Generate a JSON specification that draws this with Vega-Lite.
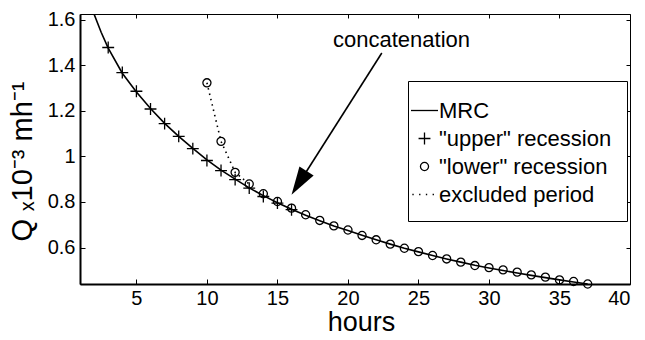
{
  "$schema": "https://vega.github.io/schema/vega-lite/v6.json",
  "width": 550,
  "height": 270,
  "autosize": {"type": "none"},
  "padding": {"left": 80, "top": 14, "right": 15, "bottom": 56},
  "config": {
    "font": "Liberation Sans",
    "view": {"stroke": "black", "strokeWidth": 1},
    "axis": {"grid": false, "labelColor": "black", "titleColor": "black", "tickColor": "black", "domainColor": "black", "labelFontSize": 20, "titleFontSize": 28, "titleFontWeight": "normal"}
  },
  "datasets": {
    "mrc": [
      {"hours": 1.9, "Q": 1.64}, {"hours": 2.5, "Q": 1.545}, {"hours": 3, "Q": 1.475}, {"hours": 4, "Q": 1.365},
      {"hours": 5, "Q": 1.283}, {"hours": 6, "Q": 1.21}, {"hours": 7, "Q": 1.145}, {"hours": 8, "Q": 1.088},
      {"hours": 9, "Q": 1.035}, {"hours": 10, "Q": 0.985}, {"hours": 11, "Q": 0.94}, {"hours": 12, "Q": 0.9},
      {"hours": 13, "Q": 0.862}, {"hours": 14, "Q": 0.828}, {"hours": 15, "Q": 0.797}, {"hours": 16, "Q": 0.768},
      {"hours": 17, "Q": 0.742}, {"hours": 18, "Q": 0.718}, {"hours": 19, "Q": 0.695}, {"hours": 20, "Q": 0.675},
      {"hours": 21, "Q": 0.654}, {"hours": 22, "Q": 0.634}, {"hours": 23, "Q": 0.615}, {"hours": 24, "Q": 0.597},
      {"hours": 25, "Q": 0.581}, {"hours": 26, "Q": 0.565}, {"hours": 27, "Q": 0.55}, {"hours": 28, "Q": 0.536},
      {"hours": 29, "Q": 0.522}, {"hours": 30, "Q": 0.51}, {"hours": 31, "Q": 0.499}, {"hours": 32, "Q": 0.488},
      {"hours": 33, "Q": 0.478}, {"hours": 34, "Q": 0.468}, {"hours": 35, "Q": 0.458}, {"hours": 36, "Q": 0.449},
      {"hours": 37, "Q": 0.44}
    ],
    "points": [
      {"series": "\"upper\" recession", "hours": 3, "Q": 1.478},
      {"series": "\"upper\" recession", "hours": 4, "Q": 1.368},
      {"series": "\"upper\" recession", "hours": 5, "Q": 1.286},
      {"series": "\"upper\" recession", "hours": 6, "Q": 1.208},
      {"series": "\"upper\" recession", "hours": 7, "Q": 1.144},
      {"series": "\"upper\" recession", "hours": 8, "Q": 1.088},
      {"series": "\"upper\" recession", "hours": 9, "Q": 1.034},
      {"series": "\"upper\" recession", "hours": 10, "Q": 0.982},
      {"series": "\"upper\" recession", "hours": 11, "Q": 0.938},
      {"series": "\"upper\" recession", "hours": 12, "Q": 0.898},
      {"series": "\"upper\" recession", "hours": 13, "Q": 0.861},
      {"series": "\"upper\" recession", "hours": 14, "Q": 0.824},
      {"series": "\"upper\" recession", "hours": 15, "Q": 0.795},
      {"series": "\"upper\" recession", "hours": 16, "Q": 0.766},
      {"series": "\"lower\" recession", "hours": 10, "Q": 1.323},
      {"series": "\"lower\" recession", "hours": 11, "Q": 1.066},
      {"series": "\"lower\" recession", "hours": 12, "Q": 0.93},
      {"series": "\"lower\" recession", "hours": 13, "Q": 0.879},
      {"series": "\"lower\" recession", "hours": 14, "Q": 0.836},
      {"series": "\"lower\" recession", "hours": 15, "Q": 0.802},
      {"series": "\"lower\" recession", "hours": 16, "Q": 0.773},
      {"series": "\"lower\" recession", "hours": 17, "Q": 0.744},
      {"series": "\"lower\" recession", "hours": 18, "Q": 0.719},
      {"series": "\"lower\" recession", "hours": 19, "Q": 0.695},
      {"series": "\"lower\" recession", "hours": 20, "Q": 0.677},
      {"series": "\"lower\" recession", "hours": 21, "Q": 0.653},
      {"series": "\"lower\" recession", "hours": 22, "Q": 0.634},
      {"series": "\"lower\" recession", "hours": 23, "Q": 0.615},
      {"series": "\"lower\" recession", "hours": 24, "Q": 0.597},
      {"series": "\"lower\" recession", "hours": 25, "Q": 0.582},
      {"series": "\"lower\" recession", "hours": 26, "Q": 0.565},
      {"series": "\"lower\" recession", "hours": 27, "Q": 0.55},
      {"series": "\"lower\" recession", "hours": 28, "Q": 0.536},
      {"series": "\"lower\" recession", "hours": 29, "Q": 0.521},
      {"series": "\"lower\" recession", "hours": 30, "Q": 0.512},
      {"series": "\"lower\" recession", "hours": 31, "Q": 0.502},
      {"series": "\"lower\" recession", "hours": 32, "Q": 0.492},
      {"series": "\"lower\" recession", "hours": 33, "Q": 0.48},
      {"series": "\"lower\" recession", "hours": 34, "Q": 0.47},
      {"series": "\"lower\" recession", "hours": 35, "Q": 0.458},
      {"series": "\"lower\" recession", "hours": 36, "Q": 0.451},
      {"series": "\"lower\" recession", "hours": 37, "Q": 0.44}
    ],
    "excluded": [
      {"hours": 10, "Q": 1.323}, {"hours": 11, "Q": 1.066}, {"hours": 12, "Q": 0.93}, {"hours": 13, "Q": 0.879}
    ],
    "arrow": [
      {"label": "concatenation", "hours": 22.4, "Q": 1.454, "hours2": 16.3, "Q2": 0.86, "tipHours": 16.0, "tipQ": 0.832, "textHours": 23.8, "textQ": 1.513}
    ]
  },
  "layer": [
    {
      "data": {"name": "mrc"},
      "mark": {"type": "line", "color": "black", "strokeWidth": 1.6, "clip": true},
      "encoding": {
        "x": {"field": "hours", "type": "quantitative", "scale": {"domain": [1, 40], "nice": false, "zero": false},
              "axis": {"orient": "bottom", "values": [5, 10, 15, 20, 25, 30, 35, 40], "title": "hours", "tickSize": -5, "labelPadding": 9, "domainWidth": 2, "titlePadding": 1, "titleFontSize": 27, "titleX": 281}},
        "y": {"field": "Q", "type": "quantitative", "scale": {"domain": [0.44, 1.625], "nice": false, "zero": false},
              "axis": {"orient": "left", "values": [0.6, 0.8, 1, 1.2, 1.4, 1.6], "format": "~g", "title": "Q ₓ10⁻³ mh⁻¹", "tickSize": -5, "labelPadding": 10, "domainWidth": 2, "titleX": -58, "titleY": 147, "titleFontSize": 29, "titleBaseline": "middle", "titleAngle": -90}}
      }
    },
    {
      "data": {"name": "excluded"},
      "mark": {"type": "line", "color": "black", "strokeWidth": 1.6, "strokeDash": [1.5, 4]},
      "encoding": {
        "x": {"field": "hours", "type": "quantitative", "axis": {"orient": "top", "values": [5, 10, 15, 20, 25, 30, 35, 40], "labels": false, "title": null, "tickSize": -4, "domain": false}},
        "y": {"field": "Q", "type": "quantitative", "axis": {"orient": "right", "values": [0.6, 0.8, 1, 1.2, 1.4, 1.6], "labels": false, "title": null, "tickSize": -4, "domain": false}}
      }
    },
    {
      "data": {"name": "points"},
      "mark": {"type": "point", "filled": false, "color": "black", "strokeWidth": 1.3, "size": 729, "opacity": 1},
      "encoding": {
        "x": {"field": "hours", "type": "quantitative", "axis": null},
        "y": {"field": "Q", "type": "quantitative", "axis": null},
        "shape": {
          "field": "series", "type": "nominal",
          "scale": {
            "domain": ["MRC", "\"upper\" recession", "\"lower\" recession", "excluded period"],
            "range": [
              "M-1,0L1,0",
              "M-0.44,0L0.44,0M0,-0.44L0,0.44",
              "M0.3,0A0.3,0.3 0 1,1 -0.3,0A0.3,0.3 0 1,1 0.3,0Z",
              "M-0.9,0L-0.8,0M-0.4,0L-0.3,0M0.1,0L0.2,0M0.6,0L0.7,0"
            ]
          },
          "legend": {
            "title": null, "orient": "none", "legendX": 328, "legendY": 67,
            "strokeColor": "black", "fillColor": "white", "padding": 15,
            "labelFontSize": 22, "labelColor": "black", "labelOffset": 0, "labelLimit": 400, "rowPadding": 2,
            "symbolOffset": -13,
            "symbolSize": 729, "symbolStrokeColor": "black", "symbolFillColor": "transparent", "symbolStrokeWidth": 1.3, "symbolOpacity": 1
          }
        }
      }
    },
    {
      "data": {"name": "arrow"},
      "mark": {"type": "rule", "color": "black", "strokeWidth": 1.6},
      "encoding": {
        "x": {"field": "hours", "type": "quantitative", "axis": null},
        "y": {"field": "Q", "type": "quantitative", "axis": null},
        "x2": {"field": "hours2"},
        "y2": {"field": "Q2"}
      }
    },
    {
      "data": {"name": "arrow"},
      "mark": {"type": "point", "filled": true, "color": "black", "opacity": 1, "size": 784, "shape": "M0,0L-0.6,-2L0.6,-2Z", "angle": 32.4},
      "encoding": {
        "x": {"field": "tipHours", "type": "quantitative", "axis": null},
        "y": {"field": "tipQ", "type": "quantitative", "axis": null}
      }
    },
    {
      "data": {"name": "arrow"},
      "mark": {"type": "text", "fontSize": 22, "color": "black", "align": "center", "baseline": "middle"},
      "encoding": {
        "x": {"field": "textHours", "type": "quantitative", "axis": null},
        "y": {"field": "textQ", "type": "quantitative", "axis": null},
        "text": {"field": "label"}
      }
    }
  ],
  "resolve": {"axis": {"x": "independent", "y": "independent"}}
}
